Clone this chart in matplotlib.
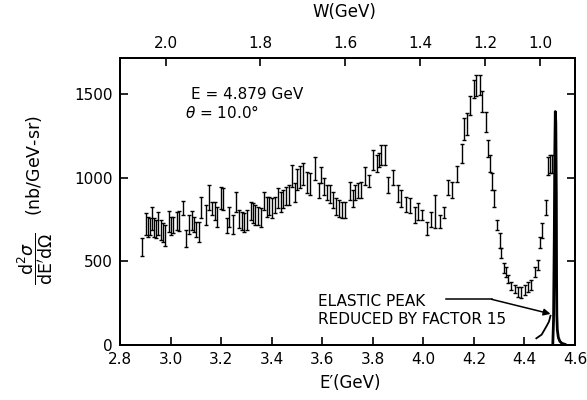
import numpy as np
import matplotlib
matplotlib.use("Agg")
import matplotlib.pyplot as plt

plt.rcParams['font.family'] = ['DejaVu Sans']

# ---- data ----
e_prime = [2.886, 2.901, 2.909, 2.918, 2.926, 2.934, 2.943, 2.951, 2.961, 2.969,
           2.977, 2.995, 3.003, 3.011, 3.024, 3.034, 3.050, 3.060, 3.073, 3.083,
           3.092, 3.102, 3.111, 3.121, 3.139, 3.154, 3.165, 3.177, 3.184, 3.198,
           3.207, 3.222, 3.232, 3.248, 3.260, 3.272, 3.281, 3.291, 3.302, 3.317,
           3.326, 3.336, 3.347, 3.357, 3.370, 3.380, 3.390, 3.401, 3.413, 3.426,
           3.436, 3.445, 3.456, 3.467, 3.482, 3.492, 3.502, 3.514, 3.525, 3.538,
           3.551, 3.571, 3.587, 3.597, 3.607, 3.617, 3.630, 3.643, 3.656, 3.667,
           3.679, 3.689, 3.709, 3.720, 3.730, 3.741, 3.754, 3.769, 3.784, 3.800,
           3.815, 3.824, 3.834, 3.847, 3.862, 3.880, 3.898, 3.913, 3.930, 3.946,
           3.966, 3.979, 3.996, 4.013, 4.030, 4.048, 4.065, 4.082, 4.098, 4.115,
           4.132, 4.151, 4.160, 4.173, 4.183, 4.200, 4.210, 4.223, 4.233, 4.247,
           4.256, 4.262, 4.272, 4.280, 4.293, 4.302, 4.309, 4.319, 4.326, 4.335,
           4.348, 4.361, 4.374, 4.388, 4.401, 4.414, 4.424, 4.443, 4.453, 4.463,
           4.471, 4.484, 4.493, 4.500, 4.508]
cross_section = [585, 722, 707, 707, 757, 702, 692, 727, 687, 672,
                 655, 740, 712, 715, 742, 743, 820, 636, 720, 745,
                 722, 692, 677, 820, 777, 882, 817, 802, 765, 877,
                 872, 712, 767, 720, 857, 752, 742, 732, 747, 802,
                 787, 777, 772, 762, 862, 827, 832, 817, 837, 877,
                 857, 872, 892, 897, 1011, 912, 988, 1004, 1021, 971,
                 961, 1056, 922, 1016, 947, 912, 902, 867, 827, 817,
                 807, 807, 921, 877, 912, 922, 926, 1011, 981, 1106,
                 1086, 1106, 1136, 1136, 956, 1000, 906, 876, 842, 834,
                 777, 798, 777, 697, 752, 798, 738, 792, 941, 926,
                 1023, 1144, 1290, 1320, 1430, 1530, 1550, 1554, 1455, 1335,
                 1175, 1086, 976, 876, 717, 623, 548, 458, 438, 393,
                 353, 334, 319, 314, 329, 349, 359, 438, 478, 613,
                 683, 822, 1071, 1081, 1080]
errors = [53, 65, 60, 50, 70, 55, 55, 70, 60, 55,
          63, 63, 55, 48, 55, 60, 43, 52, 57, 58,
          45, 45, 60, 63, 60, 75, 40, 55, 60, 66,
          65, 45, 60, 57, 60, 55, 55, 55, 60, 55,
          60, 60, 55, 55, 55, 60, 55, 60, 50, 60,
          60, 55, 55, 60, 65, 55, 62, 65, 65, 65,
          65, 70, 45, 50, 50, 45, 55, 50, 50, 50,
          50, 50, 55, 50, 45, 45, 50, 55, 35, 60,
          50, 40, 60, 60, 50, 45, 50, 50, 45, 45,
          50, 50, 30, 40, 45, 99, 39, 35, 45, 50,
          47, 55, 66, 66, 55, 55, 65, 60, 60, 60,
          50, 50, 50, 50, 30, 45, 30, 30, 30, 25,
          25, 25, 30, 35, 30, 30, 30, 30, 30, 35,
          45, 45, 55, 55, 55]

# elastic peak (reduced by factor 15), traced line
elastic_e = [4.512, 4.515, 4.518, 4.520, 4.522, 4.524, 4.526, 4.527, 4.528,
             4.530, 4.534, 4.540, 4.548, 4.560]
elastic_val = [0, 150, 650, 1150, 1395, 1330, 900, 400, 180,
               90, 45, 22, 10, 4]
tail_e = [4.447, 4.468, 4.486, 4.497, 4.503]
tail_val = [40, 62, 109, 140, 175]

# annotation line (E', value)
arrow_line_e = [4.09, 4.27]
arrow_line_v = [273, 273]
arrow_tip = (4.503, 186)

x_ticks = [2.8, 3.0, 3.2, 3.4, 3.6, 3.8, 4.0, 4.2, 4.4, 4.6]
x_ticklabels = ["2.8", "3.0", "3.2", "3.4", "3.6", "3.8", "4.0", "4.2", "4.4", "4.6"]
y_ticks = [0, 500, 1000, 1500]
y_ticklabels = ["0", "500", "1000", "1500"]
w_ticks = [2.0, 1.8, 1.6, 1.4, 1.2, 1.0]
w_ticklabels = ["2.0", "1.8", "1.6", "1.4", "1.2", "1.0"]

# kinematics for top axis
E_beam = 4.879
theta_deg = 10.0
M_p = 0.938


def w_to_eprime(w):
    s2 = np.sin(np.radians(theta_deg) / 2) ** 2
    return (M_p ** 2 + 2 * M_p * E_beam - np.asarray(w) ** 2) / (2 * M_p + 4 * E_beam * s2)


fig = plt.figure(figsize=(5.87, 4.0), dpi=100)
ax = fig.add_axes([0.2044, 0.1375, 0.7752, 0.7175])

ax.errorbar(e_prime, cross_section, yerr=errors, fmt='none', ecolor='black',
            elinewidth=1.0, capsize=1.6, capthick=1.0)
ax.plot(elastic_e, elastic_val, color='black', lw=2.0, solid_joinstyle='round')
ax.plot(tail_e, tail_val, color='black', lw=1.3)
ax.plot(arrow_line_e, arrow_line_v, color='black', lw=1.1)
ax.annotate('', xy=arrow_tip, xytext=(arrow_line_e[-1], arrow_line_v[-1]),
            arrowprops=dict(arrowstyle='-|>', color='black', lw=1.1,
                            mutation_scale=10, shrinkA=0, shrinkB=0))

ax.set_xlim(2.8, 4.6)
ax.set_ylim(0, 1715)
ax.set_xticks(x_ticks)
ax.set_xticklabels(x_ticklabels)
ax.set_yticks(y_ticks)
ax.set_yticklabels(y_ticklabels)
ax.tick_params(axis='both', direction='in', length=6, width=1.2, labelsize=11,
               pad=5, right=True)
for sp in ax.spines.values():
    sp.set_linewidth(1.4)

ax.text(3.081, 1494, "E = 4.879 GeV", fontsize=11, va='center', ha='left')
ax.text(3.057, 1387, r"$\theta$ = 10.0°", fontsize=11, va='center', ha='left')
ax.text(3.583, 259, "ELASTIC PEAK", fontsize=11, va='center', ha='left')
ax.text(3.583, 154, "REDUCED BY FACTOR 15", fontsize=11, va='center', ha='left')

ax2 = ax.twiny()
ax2.set_xlim(ax.get_xlim())
ax2.set_xticks(w_to_eprime(w_ticks))
ax2.set_xticklabels(w_ticklabels)
ax2.tick_params(axis='x', direction='in', length=6, width=1.2, labelsize=11, pad=5)
for sp in ax2.spines.values():
    sp.set_linewidth(1.4)

fig.text(0.586, 0.97, "W(GeV)", fontsize=12, ha='center', va='center')
fig.text(0.596, 0.042, "E′(GeV)", fontsize=12, ha='center', va='center')
fig.text(0.06, 0.50,
         r"$\dfrac{\mathrm{d}^2\sigma}{\mathrm{dE'd}\Omega}$   (nb/GeV-sr)",
         fontsize=12.5, rotation=90, ha='center', va='center')

fig.savefig("out.png", dpi=100)
